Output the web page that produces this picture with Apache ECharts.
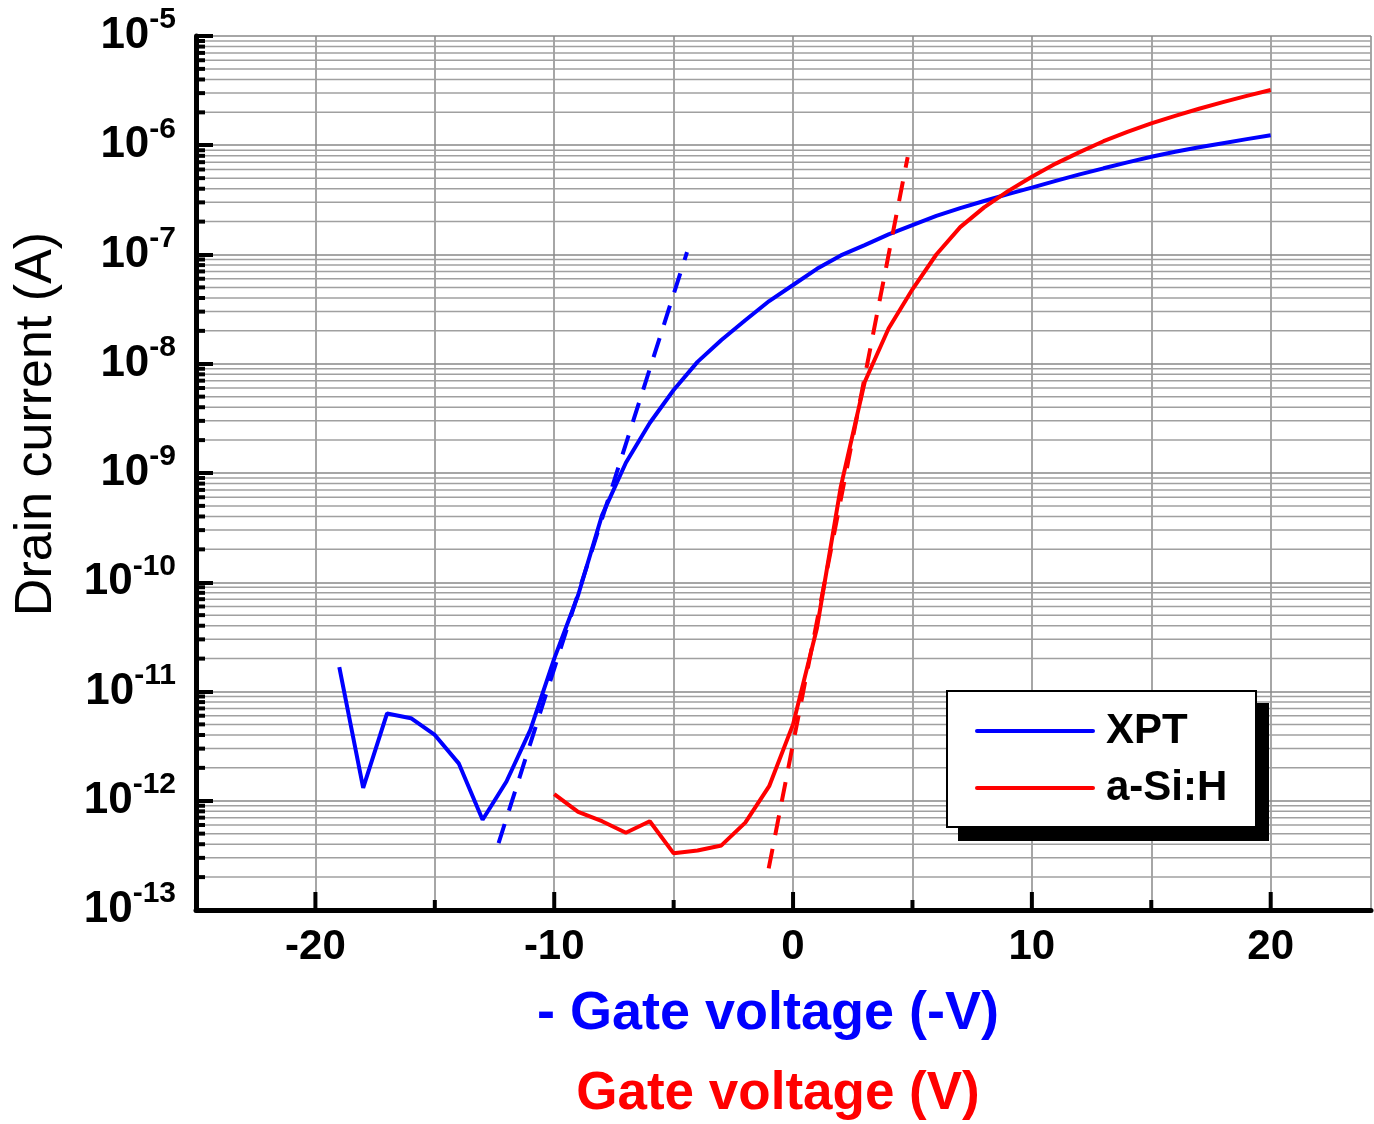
<!DOCTYPE html>
<html>
<head>
<meta charset="utf-8">
<script src="https://cdn.jsdelivr.net/npm/echarts@6/dist/echarts.min.js"></script>
<style>
html,body{margin:0;padding:0;background:#fff;}
#chart{width:1374px;height:1124px;}
</style>
</head>
<body>
<div id="chart"></div>
<script>
// ---- data ----
const xptVoltage = [-19,-18,-17,-16,-15,-14,-13,-12,-11,-10,-9,-8,-7,-6,-5,-4,-3,-2,-1,0,1,2,3,4,5,6,7,8,9,10,11,12,13,14,15,16,17,18,19,20];
const xptCurrent = [1.67e-11,1.31e-12,6.3e-12,5.7e-12,4.0e-12,2.2e-12,6.7e-13,1.5e-12,4.45e-12,2.0e-11,7.6e-11,4.1e-10,1.24e-9,2.87e-9,5.75e-9,1.04e-8,1.65e-8,2.5e-8,3.75e-8,5.26e-8,7.4e-8,9.8e-8,1.22e-7,1.53e-7,1.86e-7,2.26e-7,2.66e-7,3.09e-7,3.57e-7,4.09e-7,4.72e-7,5.41e-7,6.15e-7,6.97e-7,7.85e-7,8.71e-7,9.57e-7,1.045e-6,1.138e-6,1.233e-6];
const asiVoltage = [-10,-9,-8,-7,-6,-5,-4,-3,-2,-1,0,1,2,3,4,5,6,7,8,9,10,11,12,13,14,15,16,17,18,19,20];
const asiCurrent = [1.15e-12,7.9e-13,6.5e-13,5.1e-13,6.5e-13,3.3e-13,3.5e-13,3.9e-13,6.3e-13,1.36e-12,5.0e-12,3.8e-11,7.5e-10,6.8e-9,2.1e-8,4.8e-8,1.0e-7,1.78e-7,2.7e-7,3.8e-7,5.15e-7,6.79e-7,8.65e-7,1.089e-6,1.324e-6,1.585e-6,1.86e-6,2.16e-6,2.48e-6,2.83e-6,3.2e-6];
const xptFitV = [-12.33,-4.44];
const xptFitI = [4.1e-13,1.05e-7];
const asiFitV = [-1.02,4.8];
const asiFitI = [2.4e-13,7.8e-7];
const xTickValues = [-20,-15,-10,-5,0,5,10,15,20];
const decades = [-13,-12,-11,-10,-9,-8,-7,-6];
const mantissas = [2,3,4,5,6,7,8,9];
const seriesNames = ['XPT','a-Si:H'];

const X_MIN = -25, X_MAX = 24.2, Y_MIN = 1e-13, Y_MAX = 1e-5;
const FONT = "'Liberation Sans', Arial, sans-serif";

const pairs = (xs, ys) => xs.map((x, i) => [x, ys[i]]);
const minorValues = [];
decades.forEach(d => mantissas.forEach(m => minorValues.push([X_MIN, m * Math.pow(10, d)])));

const chart = echarts.init(document.getElementById('chart'), null, {renderer: 'canvas'});
chart.setOption({
  animation: false,
  backgroundColor: '#ffffff',
  grid: {left: 196, right: 0, top: 36, bottom: 214, containLabel: false},
  xAxis: {
    type: 'value', min: X_MIN, max: X_MAX, interval: 5,
    axisLine: {show: true, onZero: false, lineStyle: {color: '#000', width: 5}},
    axisTick: {show: false},
    axisLabel: {
      margin: 16, color: '#000', fontSize: 42, fontWeight: 'bold', fontFamily: FONT,
      formatter: v => (v % 10 === 0 && v >= -20 && v <= 20) ? String(v) : ''
    },
    splitLine: {show: true, lineStyle: {color: '#888', width: 1.5}}
  },
  yAxis: {
    type: 'log', logBase: 10, min: Y_MIN, max: Y_MAX, splitNumber: 8,
    axisLine: {show: true, onZero: false, lineStyle: {color: '#000', width: 5}},
    axisTick: {show: true, inside: true, length: 17, lineStyle: {color: '#000', width: 4}},
    axisLabel: {
      margin: 20, color: '#000', fontFamily: FONT,
      formatter: v => '{b|10}{s|' + Math.round(Math.log10(v)) + '}',
      rich: {
        b: {fontSize: 44, fontWeight: 'bold', fontFamily: FONT, color: '#000', lineHeight: 62},
        s: {fontSize: 30, fontWeight: 'bold', fontFamily: FONT, color: '#000', verticalAlign: 'top', lineHeight: 30}
      }
    },
    splitLine: {show: true, lineStyle: {color: '#888', width: 1.5}}
  },
  graphic: [
    {type: 'text', x: 37, y: 424, rotation: Math.PI / 2, style: {
      text: 'Drain current (A)', fill: '#000', font: 'normal 52px ' + FONT, textAlign: 'center', textVerticalAlign: 'middle'}},
    {type: 'text', x: 768, y: 1014, style: {text: '- Gate voltage (-V)', fill: '#0000ff', font: 'bold 54px ' + FONT, textAlign: 'center', textVerticalAlign: 'middle'}},
    {type: 'text', x: 778, y: 1094, style: {text: 'Gate voltage (V)', fill: '#ff0000', font: 'bold 53px ' + FONT, textAlign: 'center', textVerticalAlign: 'middle'}},
    {type: 'rect', shape: {x: 958, y: 703, width: 311, height: 138}, style: {fill: '#000'}, z: 100},
    {type: 'rect', shape: {x: 947, y: 691, width: 309, height: 136}, style: {fill: '#fff', stroke: '#000', lineWidth: 2}, z: 101},
    {type: 'line', shape: {x1: 977, y1: 731, x2: 1093, y2: 731}, style: {stroke: '#0000ff', lineWidth: 4, lineCap: 'round'}, z: 102},
    {type: 'line', shape: {x1: 977, y1: 788, x2: 1093, y2: 788}, style: {stroke: '#ff0000', lineWidth: 4, lineCap: 'round'}, z: 102},
    {type: 'text', x: 1106, y: 731, style: {text: seriesNames[0], fill: '#000', font: 'bold 42px ' + FONT, textVerticalAlign: 'middle'}, z: 102},
    {type: 'text', x: 1106, y: 788, style: {text: seriesNames[1], fill: '#000', font: 'bold 42px ' + FONT, textVerticalAlign: 'middle'}, z: 102}
  ],
  series: [
    {
      name: 'minorGrid', type: 'custom', data: minorValues, silent: true, z: 1, clip: false,
      renderItem: (params, api) => {
        const cs = params.coordSys;
        const p = api.coord([X_MIN, api.value(1)]);
        return {type: 'group', children: [
          {type: 'line', shape: {x1: cs.x, y1: p[1], x2: cs.x + cs.width, y2: p[1]}, style: {stroke: '#a0a0a0', lineWidth: 1.5}},
          {type: 'line', shape: {x1: cs.x, y1: p[1], x2: cs.x + 9, y2: p[1]}, style: {stroke: '#000', lineWidth: 4}}
        ]};
      }
    },
    {
      name: 'xTicks', type: 'custom', data: xTickValues.map(v => [v, Y_MIN]), silent: true, z: 3, clip: false,
      renderItem: (params, api) => {
        const v = api.value(0);
        const p = api.coord([v, Y_MIN]);
        const len = (v % 10 === 0) ? 18 : 10;
        return {type: 'line', shape: {x1: p[0], y1: p[1], x2: p[0], y2: p[1] - len}, style: {stroke: '#000', lineWidth: 4}};
      }
    },
    {name: seriesNames[0], type: 'line', data: pairs(xptVoltage, xptCurrent), showSymbol: false, smooth: false,
      lineStyle: {color: '#0000ff', width: 4}, z: 5},
    {name: seriesNames[1], type: 'line', data: pairs(asiVoltage, asiCurrent), showSymbol: false, smooth: false,
      lineStyle: {color: '#ff0000', width: 4}, z: 5},
    {name: 'XPT fit', type: 'line', data: pairs(xptFitV, xptFitI), showSymbol: false,
      lineStyle: {color: '#0000ff', width: 4, type: [20, 14]}, z: 5},
    {name: 'a-Si:H fit', type: 'line', data: pairs(asiFitV, asiFitI), showSymbol: false,
      lineStyle: {color: '#ff0000', width: 4, type: [20, 14]}, z: 5}
  ]
});
</script>
</body>
</html>
